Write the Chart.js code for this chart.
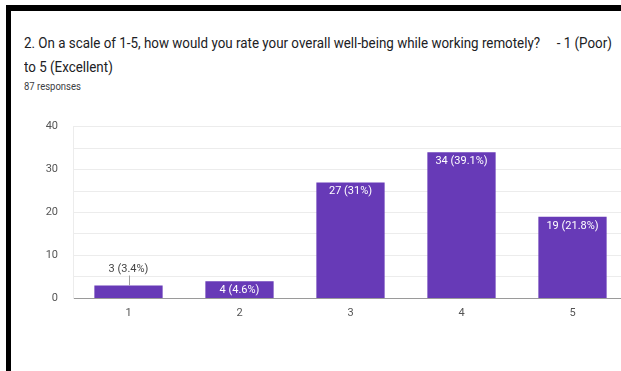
<!DOCTYPE html>
<html>
<head>
<meta charset="utf-8">
<script src="https://cdn.jsdelivr.net/npm/chart.js@4"></script>
<style>
  html, body { margin: 0; padding: 0; background: #fff; overflow: hidden; }
  body { width: 621px; height: 371px; position: relative; font-family: Roboto, sans-serif; }
  #frame { position: absolute; left: 6px; top: 5px; width: 640px; height: 400px;
           border-top: 6px solid #000; border-left: 5px solid #000; }
  .t { position: absolute; left: 24px; white-space: pre; color: #202124; transform-origin: 0 0; }
  #t1 { top: 35px; font-size: 14px; transform: scaleX(0.955); }
  #t2 { top: 59px; font-size: 14px; transform: scaleX(0.955); }
  #t3 { top: 81px; font-size: 10px; transform: scaleX(0.95); color: #3c4043; }
  #wrap { position: absolute; left: 0; top: 105px; width: 628px; height: 215px; }
</style>
</head>
<body>
<div id="frame"></div>
<div class="t" id="t1">2. On a scale of 1-5, how would you rate your overall well-being while working remotely?     - 1 (Poor)</div>
<div class="t" id="t2">to 5 (Excellent)</div>
<div class="t" id="t3">87 responses</div>
<div id="wrap"><canvas id="c"></canvas></div>
<script>
const categories = ['1', '2', '3', '4', '5'];
const counts = [3, 4, 27, 34, 19];
const percents = ['3.4%', '4.6%', '31%', '39.1%', '21.8%'];
const yTickLabels = ['0', '10', '20', '30', '40'];

const labelPlugin = {
  id: 'barLabels',
  afterDatasetsDraw(chart) {
    const ctx = chart.ctx;
    const meta = chart.getDatasetMeta(0);
    ctx.save();
    ctx.font = '11px Roboto, sans-serif';
    ctx.textAlign = 'center';
    ctx.textBaseline = 'middle';
    meta.data.forEach((bar, i) => {
      const txt = counts[i] + ' (' + percents[i] + ')';
      const h = bar.base - bar.y;
      if (h < 15) {
        ctx.strokeStyle = '#9e9e9e';
        ctx.lineWidth = 1;
        ctx.beginPath();
        ctx.moveTo(Math.round(bar.x) + 0.5, bar.y);
        ctx.lineTo(Math.round(bar.x) + 0.5, bar.y - 10);
        ctx.stroke();
        ctx.fillStyle = '#444';
        ctx.fillText(txt, bar.x, bar.y - 16);
      } else {
        ctx.fillStyle = '#ffffff';
        ctx.fillText(txt, bar.x, bar.y + 9);
      }
    });
    ctx.restore();
  }
};

new Chart(document.getElementById('c'), {
  type: 'bar',
  data: {
    labels: categories,
    datasets: [{
      data: counts,
      backgroundColor: '#673ab7',
      borderWidth: 0,
      categoryPercentage: 1,
      barPercentage: 0.615
    }]
  },
  options: {
    responsive: true,
    maintainAspectRatio: false,
    animation: false,
    layout: { padding: { top: 5, left: 0, right: 0, bottom: 0 } },
    plugins: { legend: { display: false }, tooltip: { enabled: false } },
    scales: {
      x: {
        grid: { display: false, drawTicks: false },
        border: { display: true, color: '#9a9a9a', width: 1 },
        ticks: { color: '#555', font: { family: 'Roboto', size: 11 }, padding: 8 },
        afterFit(s) { s.height = 21; }
      },
      y: {
        min: 0, max: 40,
        grid: {
          drawTicks: false,
          color(ctx) { return ctx.tick && ctx.tick.value === 0 ? 'rgba(0,0,0,0)' : '#ececec'; }
        },
        border: { display: true, color: '#ececec', width: 1 },
        ticks: {
          stepSize: 5,
          padding: 15,
          color: '#555',
          font: { family: 'Roboto', size: 11 },
          callback(v) { return v % 10 === 0 ? yTickLabels[v / 10] : ''; }
        },
        afterFit(s) { s.width = 73; }
      }
    }
  },
  plugins: [labelPlugin]
});
</script>
</body>
</html>
